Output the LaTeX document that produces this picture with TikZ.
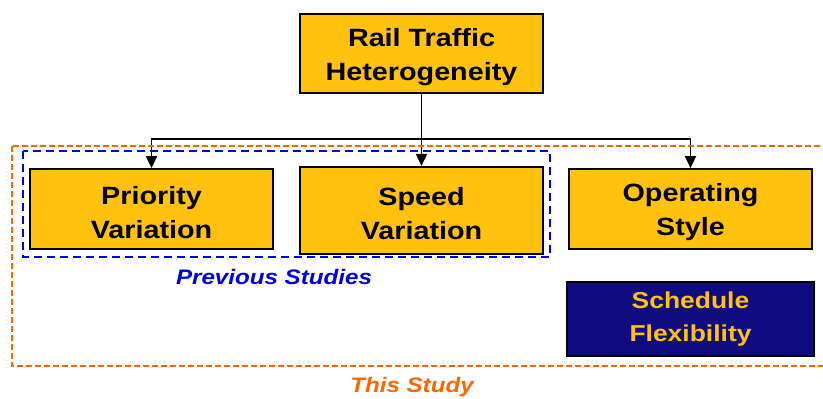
\documentclass[tikz,border=0pt]{standalone}
\usepackage{fontspec}
\setmainfont{Liberation Sans}[FakeStretch=1.15]
\usetikzlibrary{positioning,arrows.meta}
\definecolor{boxyellow}{RGB}{255,194,14}
\definecolor{navyblue}{RGB}{16,12,128}
\definecolor{studyblue}{RGB}{0,0,225}
\definecolor{studyorange}{RGB}{255,102,0}

\begin{document}
\begin{tikzpicture}[
        plainbox/.style={rectangle, draw=black, line width=1.8pt, fill=boxyellow, align=center,
                       minimum width=243pt, minimum height=80pt, inner sep=0pt},
        factor/.style={plainbox, font=\bfseries\fontsize{25}{34}\selectfont,
                       execute at begin node={\rule{0pt}{59pt}}},
        link/.style={line width=1.8pt, -{Triangle[width=11pt,length=12pt]}}]
        \useasboundingbox (0,0) rectangle (823pt,-399pt);
        \node[factor, minimum height=79pt] (rail) at (421.5pt,-53.5pt) {Rail Traffic\\Heterogeneity};
        \node[factor, minimum height=87pt] (speed) [below=72pt of rail] {Speed\\Variation};
        \node[factor] (priority) at (151.5pt,-209pt) {Priority\\Variation};
        \node[factor] (operating) at (690.5pt,-209pt) {Operating\\Style};
        \node[plainbox, fill=navyblue, text=boxyellow, minimum width=247pt, minimum height=74pt,
              font=\bfseries\fontsize{23}{33}\selectfont] (schedule) [below=31pt of operating] {Schedule\\Flexibility};
        \coordinate[below=45pt of rail] (bus);
        \draw[line width=1.8pt] (rail) -- (bus);
        \draw[link] (bus) -| (priority);
        \draw[link] (bus) -- (speed);
        \draw[link] (bus) -| (operating);
        % study frames
        \draw[studyblue, line width=1.8pt, dash pattern=on 8pt off 5pt] (23pt,-151pt) rectangle (550pt,-257pt);
        \draw[studyorange, line width=1.8pt, dash pattern=on 6pt off 3pt] (12pt,-146pt) rectangle (835pt,-366pt);
        \node[text=studyblue, font=\bfseries\itshape\fontsize{21}{24}\selectfont] (prevlabel) at (274pt,-277pt) {Previous Studies};
        \node[text=studyorange, font=\bfseries\itshape\fontsize{21}{24}\selectfont] (thislabel) at (412pt,-387pt) {This Study};
\end{tikzpicture}
\end{document}
